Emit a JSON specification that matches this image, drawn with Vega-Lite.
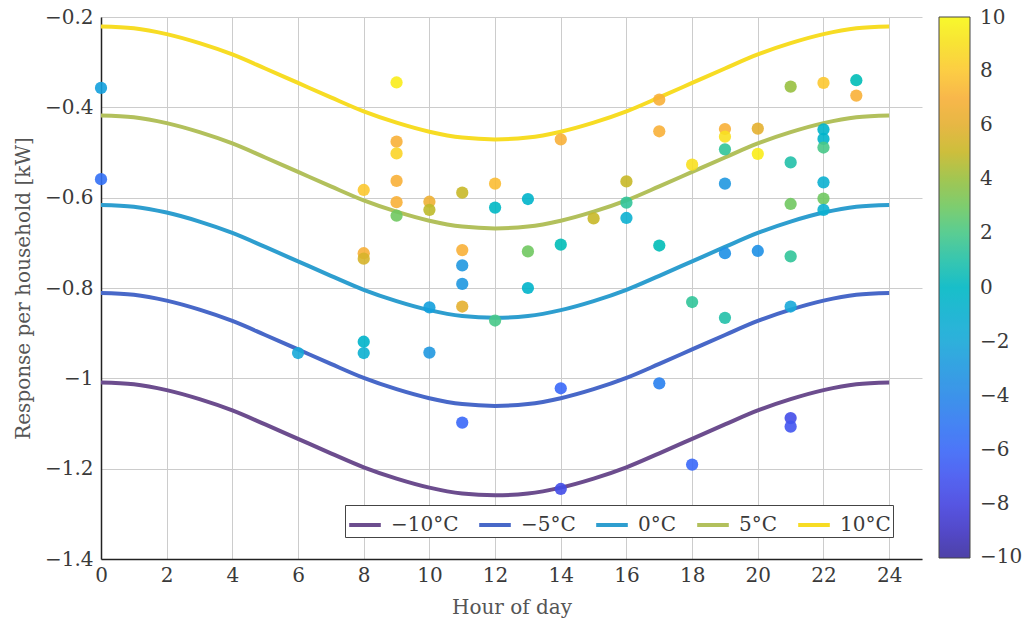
{
  "$schema": "https://vega.github.io/schema/vega-lite/v6.json",
  "autosize": {"type": "none"},
  "padding": {"left": 101, "top": 17, "right": 107, "bottom": 61},
  "width": 821,
  "height": 542,
  "background": "white",
  "config": {
    "view": {"stroke": null},
    "font": "DejaVu Serif",
    "axis": {
      "labelFont": "DejaVu Serif",
      "labelFontSize": 20,
      "labelColor": "#3a3a3a",
      "labelFlush": false,
      "titleFont": "DejaVu Serif",
      "titleFontSize": 20,
      "titleFontWeight": "normal",
      "titleColor": "#555555",
      "gridColor": "#cccccc",
      "gridWidth": 1,
      "ticks": false,
      "domainColor": "#222222",
      "domainWidth": 1.5
    },
    "legend": {
      "labelFont": "DejaVu Serif",
      "labelFontSize": 20,
      "labelColor": "#3a3a3a"
    }
  },
  "datasets": {
    "curves": [
      {"series": "−10°C", "hour": 0, "value": -1.009}, {"series": "−10°C", "hour": 1, "value": -1.013}, {"series": "−10°C", "hour": 2, "value": -1.026}, {"series": "−10°C", "hour": 3, "value": -1.046}, {"series": "−10°C", "hour": 4, "value": -1.071}, {"series": "−10°C", "hour": 5, "value": -1.102}, {"series": "−10°C", "hour": 6, "value": -1.134}, {"series": "−10°C", "hour": 7, "value": -1.166}, {"series": "−10°C", "hour": 8, "value": -1.197}, {"series": "−10°C", "hour": 9, "value": -1.222}, {"series": "−10°C", "hour": 10, "value": -1.242}, {"series": "−10°C", "hour": 11, "value": -1.255}, {"series": "−10°C", "hour": 12, "value": -1.259}, {"series": "−10°C", "hour": 13, "value": -1.255}, {"series": "−10°C", "hour": 14, "value": -1.242}, {"series": "−10°C", "hour": 15, "value": -1.222}, {"series": "−10°C", "hour": 16, "value": -1.197}, {"series": "−10°C", "hour": 17, "value": -1.166}, {"series": "−10°C", "hour": 18, "value": -1.134}, {"series": "−10°C", "hour": 19, "value": -1.102}, {"series": "−10°C", "hour": 20, "value": -1.071}, {"series": "−10°C", "hour": 21, "value": -1.046}, {"series": "−10°C", "hour": 22, "value": -1.026}, {"series": "−10°C", "hour": 23, "value": -1.013}, {"series": "−10°C", "hour": 24, "value": -1.009},
      {"series": "−5°C", "hour": 0, "value": -0.811}, {"series": "−5°C", "hour": 1, "value": -0.815}, {"series": "−5°C", "hour": 2, "value": -0.828}, {"series": "−5°C", "hour": 3, "value": -0.848}, {"series": "−5°C", "hour": 4, "value": -0.873}, {"series": "−5°C", "hour": 5, "value": -0.904}, {"series": "−5°C", "hour": 6, "value": -0.936}, {"series": "−5°C", "hour": 7, "value": -0.968}, {"series": "−5°C", "hour": 8, "value": -0.999}, {"series": "−5°C", "hour": 9, "value": -1.024}, {"series": "−5°C", "hour": 10, "value": -1.044}, {"series": "−5°C", "hour": 11, "value": -1.057}, {"series": "−5°C", "hour": 12, "value": -1.061}, {"series": "−5°C", "hour": 13, "value": -1.057}, {"series": "−5°C", "hour": 14, "value": -1.044}, {"series": "−5°C", "hour": 15, "value": -1.024}, {"series": "−5°C", "hour": 16, "value": -0.999}, {"series": "−5°C", "hour": 17, "value": -0.968}, {"series": "−5°C", "hour": 18, "value": -0.936}, {"series": "−5°C", "hour": 19, "value": -0.904}, {"series": "−5°C", "hour": 20, "value": -0.873}, {"series": "−5°C", "hour": 21, "value": -0.848}, {"series": "−5°C", "hour": 22, "value": -0.828}, {"series": "−5°C", "hour": 23, "value": -0.815}, {"series": "−5°C", "hour": 24, "value": -0.811},
      {"series": "0°C", "hour": 0, "value": -0.616}, {"series": "0°C", "hour": 1, "value": -0.620}, {"series": "0°C", "hour": 2, "value": -0.633}, {"series": "0°C", "hour": 3, "value": -0.653}, {"series": "0°C", "hour": 4, "value": -0.678}, {"series": "0°C", "hour": 5, "value": -0.709}, {"series": "0°C", "hour": 6, "value": -0.741}, {"series": "0°C", "hour": 7, "value": -0.773}, {"series": "0°C", "hour": 8, "value": -0.804}, {"series": "0°C", "hour": 9, "value": -0.829}, {"series": "0°C", "hour": 10, "value": -0.849}, {"series": "0°C", "hour": 11, "value": -0.862}, {"series": "0°C", "hour": 12, "value": -0.866}, {"series": "0°C", "hour": 13, "value": -0.862}, {"series": "0°C", "hour": 14, "value": -0.849}, {"series": "0°C", "hour": 15, "value": -0.829}, {"series": "0°C", "hour": 16, "value": -0.804}, {"series": "0°C", "hour": 17, "value": -0.773}, {"series": "0°C", "hour": 18, "value": -0.741}, {"series": "0°C", "hour": 19, "value": -0.709}, {"series": "0°C", "hour": 20, "value": -0.678}, {"series": "0°C", "hour": 21, "value": -0.653}, {"series": "0°C", "hour": 22, "value": -0.633}, {"series": "0°C", "hour": 23, "value": -0.620}, {"series": "0°C", "hour": 24, "value": -0.616},
      {"series": "5°C", "hour": 0, "value": -0.418}, {"series": "5°C", "hour": 1, "value": -0.422}, {"series": "5°C", "hour": 2, "value": -0.435}, {"series": "5°C", "hour": 3, "value": -0.455}, {"series": "5°C", "hour": 4, "value": -0.480}, {"series": "5°C", "hour": 5, "value": -0.511}, {"series": "5°C", "hour": 6, "value": -0.543}, {"series": "5°C", "hour": 7, "value": -0.575}, {"series": "5°C", "hour": 8, "value": -0.606}, {"series": "5°C", "hour": 9, "value": -0.631}, {"series": "5°C", "hour": 10, "value": -0.651}, {"series": "5°C", "hour": 11, "value": -0.664}, {"series": "5°C", "hour": 12, "value": -0.668}, {"series": "5°C", "hour": 13, "value": -0.664}, {"series": "5°C", "hour": 14, "value": -0.651}, {"series": "5°C", "hour": 15, "value": -0.631}, {"series": "5°C", "hour": 16, "value": -0.606}, {"series": "5°C", "hour": 17, "value": -0.575}, {"series": "5°C", "hour": 18, "value": -0.543}, {"series": "5°C", "hour": 19, "value": -0.511}, {"series": "5°C", "hour": 20, "value": -0.480}, {"series": "5°C", "hour": 21, "value": -0.455}, {"series": "5°C", "hour": 22, "value": -0.435}, {"series": "5°C", "hour": 23, "value": -0.422}, {"series": "5°C", "hour": 24, "value": -0.418},
      {"series": "10°C", "hour": 0, "value": -0.221}, {"series": "10°C", "hour": 1, "value": -0.225}, {"series": "10°C", "hour": 2, "value": -0.238}, {"series": "10°C", "hour": 3, "value": -0.258}, {"series": "10°C", "hour": 4, "value": -0.283}, {"series": "10°C", "hour": 5, "value": -0.314}, {"series": "10°C", "hour": 6, "value": -0.346}, {"series": "10°C", "hour": 7, "value": -0.378}, {"series": "10°C", "hour": 8, "value": -0.409}, {"series": "10°C", "hour": 9, "value": -0.434}, {"series": "10°C", "hour": 10, "value": -0.454}, {"series": "10°C", "hour": 11, "value": -0.467}, {"series": "10°C", "hour": 12, "value": -0.471}, {"series": "10°C", "hour": 13, "value": -0.467}, {"series": "10°C", "hour": 14, "value": -0.454}, {"series": "10°C", "hour": 15, "value": -0.434}, {"series": "10°C", "hour": 16, "value": -0.409}, {"series": "10°C", "hour": 17, "value": -0.378}, {"series": "10°C", "hour": 18, "value": -0.346}, {"series": "10°C", "hour": 19, "value": -0.314}, {"series": "10°C", "hour": 20, "value": -0.283}, {"series": "10°C", "hour": 21, "value": -0.258}, {"series": "10°C", "hour": 22, "value": -0.238}, {"series": "10°C", "hour": 23, "value": -0.225}, {"series": "10°C", "hour": 24, "value": -0.221}
    ],
    "points": [
      {"hour": 0, "value": -0.357, "temp": -2.5},
      {"hour": 0, "value": -0.559, "temp": -5.5},
      {"hour": 6, "value": -0.944, "temp": -2},
      {"hour": 8, "value": -0.583, "temp": 8},
      {"hour": 8, "value": -0.723, "temp": 7},
      {"hour": 8, "value": -0.735, "temp": 5.5},
      {"hour": 8, "value": -0.919, "temp": -0.5},
      {"hour": 8, "value": -0.944, "temp": -1},
      {"hour": 9, "value": -0.345, "temp": 9.5},
      {"hour": 9, "value": -0.476, "temp": 7},
      {"hour": 9, "value": -0.502, "temp": 8.5},
      {"hour": 9, "value": -0.563, "temp": 7},
      {"hour": 9, "value": -0.610, "temp": 7},
      {"hour": 9, "value": -0.640, "temp": 3},
      {"hour": 10, "value": -0.609, "temp": 6.5},
      {"hour": 10, "value": -0.627, "temp": 4.8},
      {"hour": 10, "value": -0.843, "temp": -2.5},
      {"hour": 10, "value": -0.943, "temp": -3},
      {"hour": 11, "value": -0.589, "temp": 5},
      {"hour": 11, "value": -0.716, "temp": 7},
      {"hour": 11, "value": -0.750, "temp": -3},
      {"hour": 11, "value": -0.791, "temp": -3},
      {"hour": 11, "value": -0.841, "temp": 6},
      {"hour": 11, "value": -1.098, "temp": -6},
      {"hour": 12, "value": -0.569, "temp": 7.5},
      {"hour": 12, "value": -0.622, "temp": 0},
      {"hour": 12, "value": -0.872, "temp": 2},
      {"hour": 13, "value": -0.603, "temp": -0.5},
      {"hour": 13, "value": -0.719, "temp": 3},
      {"hour": 13, "value": -0.800, "temp": -0.5},
      {"hour": 14, "value": -0.471, "temp": 7},
      {"hour": 14, "value": -0.704, "temp": 0.5},
      {"hour": 14, "value": -1.022, "temp": -6},
      {"hour": 14, "value": -1.245, "temp": -7.5},
      {"hour": 15, "value": -0.646, "temp": 5},
      {"hour": 16, "value": -0.564, "temp": 5},
      {"hour": 16, "value": -0.611, "temp": 1.5},
      {"hour": 16, "value": -0.645, "temp": -1},
      {"hour": 17, "value": -0.383, "temp": 7},
      {"hour": 17, "value": -0.453, "temp": 7},
      {"hour": 17, "value": -0.706, "temp": 0.5},
      {"hour": 17, "value": -1.011, "temp": -4.5},
      {"hour": 18, "value": -0.527, "temp": 9},
      {"hour": 18, "value": -0.831, "temp": 1.5},
      {"hour": 18, "value": -1.191, "temp": -6},
      {"hour": 19, "value": -0.448, "temp": 7},
      {"hour": 19, "value": -0.465, "temp": 9},
      {"hour": 19, "value": -0.493, "temp": 1.5},
      {"hour": 19, "value": -0.569, "temp": -3},
      {"hour": 19, "value": -0.723, "temp": -3.5},
      {"hour": 19, "value": -0.866, "temp": 1},
      {"hour": 20, "value": -0.447, "temp": 6},
      {"hour": 20, "value": -0.503, "temp": 9.5},
      {"hour": 20, "value": -0.718, "temp": -3.5},
      {"hour": 21, "value": -0.354, "temp": 4},
      {"hour": 21, "value": -0.522, "temp": 1},
      {"hour": 21, "value": -0.614, "temp": 3},
      {"hour": 21, "value": -0.730, "temp": 1.5},
      {"hour": 21, "value": -0.841, "temp": -2},
      {"hour": 21, "value": -1.088, "temp": -7.5},
      {"hour": 21, "value": -1.107, "temp": -7},
      {"hour": 22, "value": -0.346, "temp": 8},
      {"hour": 22, "value": -0.449, "temp": -0.5},
      {"hour": 22, "value": -0.470, "temp": -0.5},
      {"hour": 22, "value": -0.489, "temp": 2},
      {"hour": 22, "value": -0.566, "temp": -1},
      {"hour": 22, "value": -0.602, "temp": 3},
      {"hour": 22, "value": -0.627, "temp": -1},
      {"hour": 23, "value": -0.340, "temp": 0.5},
      {"hour": 23, "value": -0.374, "temp": 7}
    ]
  },
  "layer": [
    {
      "data": {"name": "curves"},
      "mark": {"type": "line", "strokeWidth": 4, "interpolate": "monotone"},
      "encoding": {
        "x": {
          "field": "hour", "type": "quantitative",
          "scale": {"domain": [0, 25], "nice": false, "zero": false},
          "axis": {"values": [0, 2, 4, 6, 8, 10, 12, 14, 16, 18, 20, 22, 24], "format": "d", "title": "Hour of day", "labelPadding": 6, "titlePadding": 12}
        },
        "y": {
          "field": "value", "type": "quantitative",
          "scale": {"domain": [-1.4, -0.2], "nice": false, "zero": false},
          "axis": {"values": [-1.4, -1.2, -1, -0.8, -0.6, -0.4, -0.2], "format": ".1~f", "title": "Response per household [kW]", "labelPadding": 8, "titlePadding": 11}
        },
        "stroke": {
          "field": "series", "type": "nominal",
          "scale": {"domain": ["−10°C", "−5°C", "0°C", "5°C", "10°C"], "range": ["#6c4d8e", "#4868c8", "#2e9ecf", "#b2c05c", "#f7dc24"]},
          "legend": {
            "title": null, "orient": "none", "legendX": 244, "legendY": 488,
            "direction": "horizontal", "columns": 5,
            "symbolType": "stroke", "symbolSize": 1000, "symbolStrokeWidth": 4,
            "labelOffset": 8, "columnPadding": 12, "padding": 2,
            "strokeColor": "#444444", "fillColor": "white"
          }
        }
      }
    },
    {
      "data": {"name": "points"},
      "mark": {"type": "circle", "size": 150, "opacity": 0.9},
      "encoding": {
        "x": {"field": "hour", "type": "quantitative"},
        "y": {"field": "value", "type": "quantitative"},
        "fill": {
          "field": "temp", "type": "quantitative",
          "scale": {
            "domain": [-10, -9, -8, -7, -6, -5, -4, -3, -2, -1, 0, 1, 2, 3, 4, 5, 6, 7, 8, 9, 10],
            "range": ["#3b2d9e", "#4136c4", "#4444e0", "#4255f0", "#3a68f8", "#3178f2", "#2888e8", "#2098e0", "#18a8d8", "#0cb0d0", "#00b8c4", "#22c0a8", "#48c888", "#70c860", "#98c040", "#c8b828", "#e4b030", "#f8b038", "#fcc830", "#f8e020", "#f8f816"]
          },
          "legend": {
            "title": null, "orient": "none", "legendX": 838, "legendY": 0,
            "direction": "vertical", "type": "gradient",
            "gradientLength": 541, "gradientThickness": 31,
            "gradientStrokeColor": "#333333", "gradientStrokeWidth": 1,
            "values": [-9.97, -8, -6, -4, -2, 0, 2, 4, 6, 8, 9.97],
            "labelExpr": "format(round(datum.value), 'd')",
            "labelOffset": 10, "labelOverlap": false
          }
        }
      }
    }
  ]
}
